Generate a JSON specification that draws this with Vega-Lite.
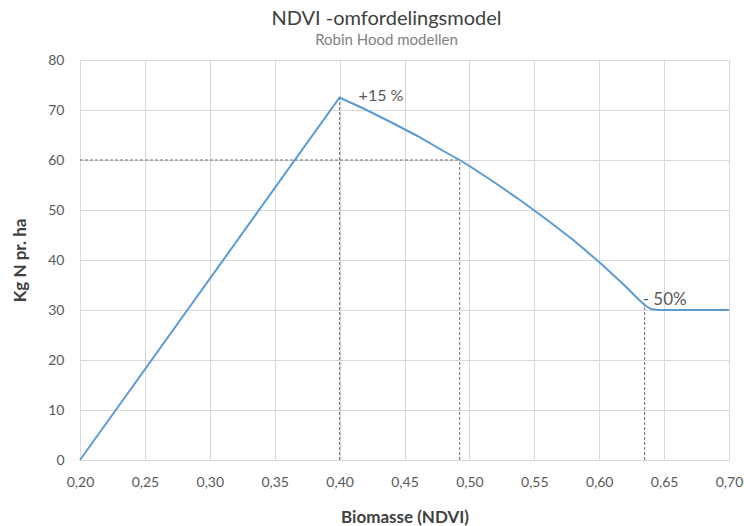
{
  "$schema": "https://vega.github.io/schema/vega-lite/v6.json",
  "autosize": "none",
  "width": 649,
  "height": 400,
  "padding": {"left": 80, "top": 60, "right": 15, "bottom": 66},
  "background": "white",
  "title": {
    "text": "NDVI -omfordelingsmodel",
    "subtitle": "Robin Hood modellen",
    "anchor": "middle",
    "dx": -18,
    "offset": 5,
    "font": "Lato",
    "fontSize": 20,
    "fontWeight": "normal",
    "color": "#404040",
    "subtitleFont": "Lato",
    "subtitleFontSize": 15,
    "subtitleColor": "#7f7f7f",
    "subtitlePadding": 4
  },
  "datasets": {
    "curve": [
      {"ndvi": 0.20, "n": 0},
      {"ndvi": 0.40, "n": 72.5},
      {"ndvi": 0.42, "n": 70.1},
      {"ndvi": 0.44, "n": 67.5},
      {"ndvi": 0.46, "n": 64.8},
      {"ndvi": 0.48, "n": 61.8},
      {"ndvi": 0.4925, "n": 60},
      {"ndvi": 0.50, "n": 58.8},
      {"ndvi": 0.52, "n": 55.4},
      {"ndvi": 0.54, "n": 51.8},
      {"ndvi": 0.56, "n": 48.0},
      {"ndvi": 0.58, "n": 44.0},
      {"ndvi": 0.60, "n": 39.6},
      {"ndvi": 0.62, "n": 34.8},
      {"ndvi": 0.63, "n": 32.2},
      {"ndvi": 0.636, "n": 30.8},
      {"ndvi": 0.640, "n": 30.2},
      {"ndvi": 0.645, "n": 30},
      {"ndvi": 0.70, "n": 30}
    ],
    "guides": [
      {"x": 0.40, "x2": 0.40, "y": 0, "y2": 72.5},
      {"x": 0.4925, "x2": 0.4925, "y": 0, "y2": 60},
      {"x": 0.635, "x2": 0.635, "y": 0, "y2": 30.5},
      {"x": 0.20, "x2": 0.4925, "y": 60, "y2": 60}
    ],
    "labels": [
      {"x": 0.40, "y": 72.5, "label": "+15 %", "pos": "a"},
      {"x": 0.635, "y": 30, "label": "- 50%", "pos": "b"}
    ]
  },
  "config": {
    "view": {"stroke": null},
    "axis": {
      "labelFont": "Lato",
      "titleFont": "Lato",
      "labelColor": "#595959",
      "titleColor": "#404040",
      "labelFontSize": 14,
      "titleFontSize": 17,
      "titleFontWeight": "bold",
      "gridColor": "#d9d9d9",
      "gridWidth": 1,
      "domain": false,
      "ticks": false,
      "labelFlush": false
    }
  },
  "layer": [
    {
      "data": {"name": "guides"},
      "mark": {"type": "rule", "color": "#6f6f6f", "strokeWidth": 1, "strokeDash": [3, 2]},
      "encoding": {
        "x": {
          "field": "x", "type": "quantitative",
          "scale": {"domain": [0.2, 0.7], "nice": false, "zero": false},
          "axis": {
            "title": "Biomasse (NDVI)",
            "values": [0.2, 0.25, 0.3, 0.35, 0.4, 0.45, 0.5, 0.55, 0.6, 0.65, 0.7],
            "labelExpr": "replace(format(datum.value, '.2f'), '.', ',')",
            "labelPadding": 15,
            "titlePadding": 20
          }
        },
        "x2": {"field": "x2"},
        "y": {
          "field": "y", "type": "quantitative",
          "scale": {"domain": [0, 80], "nice": false},
          "axis": {
            "title": "Kg N pr. ha",
            "values": [0, 10, 20, 30, 40, 50, 60, 70, 80],
            "labelPadding": 16,
            "titlePadding": 18
          }
        },
        "y2": {"field": "y2"}
      }
    },
    {
      "data": {"name": "curve"},
      "mark": {"type": "line", "color": "#5b9bd5", "strokeWidth": 2, "interpolate": "linear"},
      "encoding": {
        "x": {"field": "ndvi", "type": "quantitative"},
        "y": {"field": "n", "type": "quantitative"}
      }
    },
    {
      "data": {"name": "labels"},
      "transform": [{"filter": "datum.pos == 'a'"}],
      "mark": {"type": "text", "align": "left", "baseline": "middle", "dx": 19, "dy": -2, "font": "Lato", "fontSize": 16, "color": "#595959"},
      "encoding": {
        "x": {"field": "x", "type": "quantitative"},
        "y": {"field": "y", "type": "quantitative"},
        "text": {"field": "label"}
      }
    },
    {
      "data": {"name": "labels"},
      "transform": [{"filter": "datum.pos == 'b'"}],
      "mark": {"type": "text", "align": "left", "baseline": "middle", "dx": -2, "dy": -10, "font": "Lato", "fontSize": 17, "color": "#595959"},
      "encoding": {
        "x": {"field": "x", "type": "quantitative"},
        "y": {"field": "y", "type": "quantitative"},
        "text": {"field": "label"}
      }
    }
  ]
}
